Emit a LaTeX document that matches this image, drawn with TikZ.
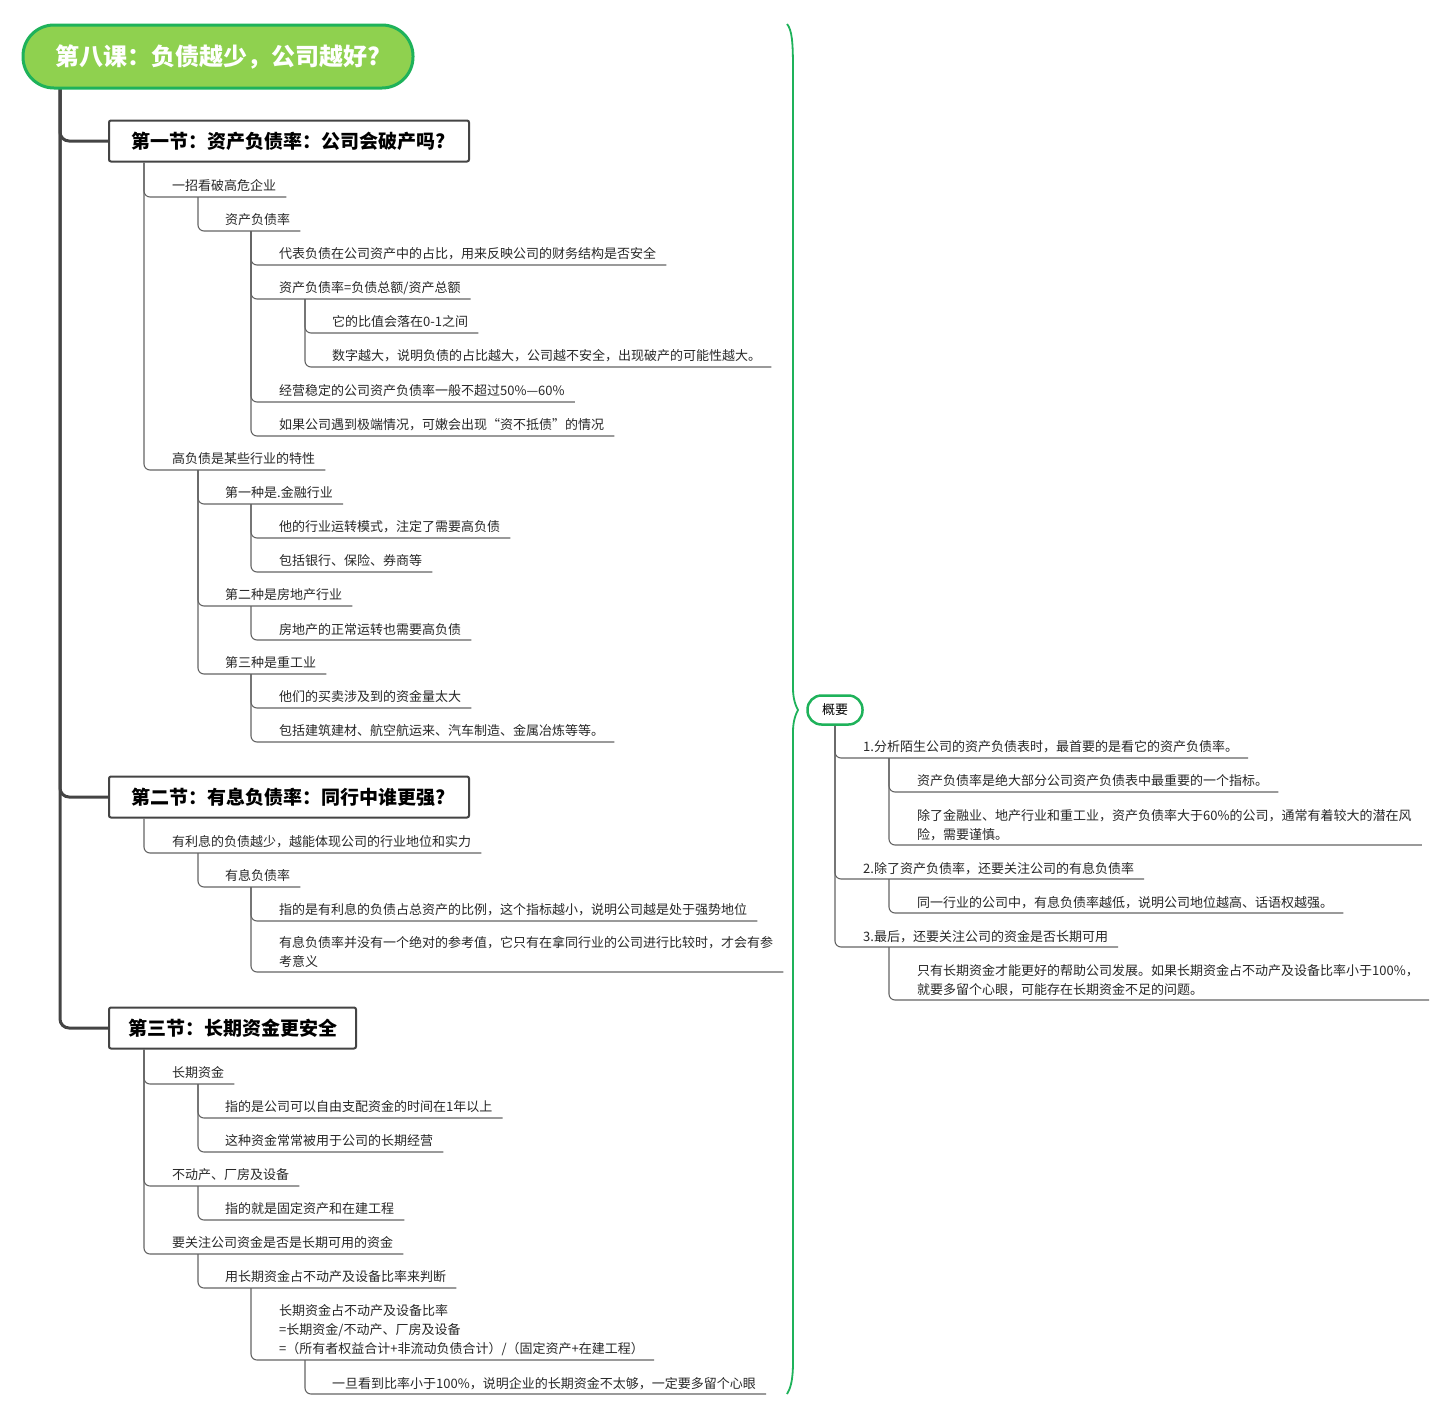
\documentclass[tikz,border=0pt]{standalone}
\usepackage{fontspec}
\setmainfont{Noto Sans CJK SC}
\usetikzlibrary{backgrounds}
\definecolor{textc}{RGB}{40,40,40}
\definecolor{linec}{RGB}{100,100,100}
\definecolor{trunkc}{RGB}{68,68,68}
\definecolor{gfill}{RGB}{143,209,79}
\definecolor{gline}{RGB}{30,178,90}
\begin{document}
\begin{tikzpicture}[x=1pt,y=-1pt,
  t/.style={anchor=west,inner sep=0pt,align=left,text=textc,yshift=-0.8pt,font=\fontsize{13}{19}\selectfont},
  conn/.style={draw=linec,line width=1.1pt,rounded corners=6pt},
  trunk/.style={draw=trunkc,line width=3pt,rounded corners=9pt},
  secbox/.style={draw=trunkc,line width=2pt,fill=white,rounded corners=2pt,minimum height=41pt,inner sep=0pt,text=black,font=\fontsize{19}{22}\selectfont\bfseries},
  titlebox/.style={draw=gline,line width=3pt,fill=gfill,rounded corners=31pt,minimum width=390pt,minimum height=63pt,inner sep=0pt,text=white,font=\fontsize{24}{28}\selectfont\bfseries},
  sumbox/.style={draw=gline,line width=2.5pt,fill=white,rounded corners=14pt,minimum width=55pt,minimum height=29pt,inner sep=0pt,text=black,font=\fontsize{13}{16}\selectfont},
  brace/.style={draw=gline,line width=1.8pt}
]
\newcommand\mmitem[6]{%
  \node[t] (#1) at (#3,#4) {#6};
  \coordinate (#1u) at (#1.east |- 0,#5);
  \coordinate (#1s) at (#3+26,#5);
  \draw[conn] (#2) |- ([xshift=10pt]#1u);
}
\useasboundingbox (0,0) rectangle (1440,1419);

% title and sections
\node[titlebox] (title) at (218,56.5) {第八课：负债越少，公司越好?};
\node[secbox,minimum width=360pt] (sec1) at (289,141) {第一节：资产负债率：公司会破产吗?};
\node[secbox,minimum width=360pt] (sec2) at (289,797) {第二节：有息负债率：同行中谁更强?};
\node[secbox,minimum width=247pt] (sec3) at (232.5,1028) {第三节：长期资金更安全};
\coordinate (troot) at (title.south -| 60,0);
\begin{scope}[on background layer]
  \fill[white] (0,0) rectangle (1440,1419);
  \draw[trunk] ([yshift=2pt]troot) |- (sec1.west);
  \draw[trunk] ([yshift=2pt]troot) |- (sec2.west);
  \draw[trunk] ([yshift=2pt]troot) |- (sec3.west);
\end{scope}

\coordinate (sec1s) at ([xshift=36pt]sec1.south west);
\coordinate (sec2s) at ([xshift=36pt]sec2.south west);
\coordinate (sec3s) at ([xshift=36pt]sec3.south west);

% section 1
\mmitem{a1}{sec1s}{172}{185}{197}{一招看破高危企业}
\mmitem{a11}{a1s}{225}{219}{231}{资产负债率}
\mmitem{a111}{a11s}{279}{253}{265}{代表负债在公司资产中的占比，用来反映公司的财务结构是否安全}
\mmitem{a112}{a11s}{279}{287}{299}{资产负债率=负债总额/资产总额}
\mmitem{a1121}{a112s}{332}{321}{333}{它的比值会落在0-1之间}
\mmitem{a1122}{a112s}{332}{355}{367}{数字越大，说明负债的占比越大，公司越不安全，出现破产的可能性越大。}
\mmitem{a113}{a11s}{279}{390}{402}{经营稳定的公司资产负债率一般不超过50\%—60\%}
\mmitem{a114}{a11s}{279}{424}{436}{如果公司遇到极端情况，可嫩会出现“资不抵债”的情况}
\mmitem{a2}{sec1s}{172}{458}{470}{高负债是某些行业的特性}
\mmitem{a21}{a2s}{225}{492}{504}{第一种是.金融行业}
\mmitem{a211}{a21s}{279}{526}{538}{他的行业运转模式，注定了需要高负债}
\mmitem{a212}{a21s}{279}{560}{572}{包括银行、保险、券商等}
\mmitem{a22}{a2s}{225}{594}{606}{第二种是房地产行业}
\mmitem{a221}{a22s}{279}{629}{640}{房地产的正常运转也需要高负债}
\mmitem{a23}{a2s}{225}{662}{674}{第三种是重工业}
\mmitem{a231}{a23s}{279}{696}{708}{他们的买卖涉及到的资金量太大}
\mmitem{a232}{a23s}{279}{730}{742}{包括建筑建材、航空航运来、汽车制造、金属冶炼等等。}

% section 2
\mmitem{b1}{sec2s}{172}{841}{853}{有利息的负债越少，越能体现公司的行业地位和实力}
\mmitem{b11}{b1s}{225}{875}{887}{有息负债率}
\mmitem{b111}{b11s}{279}{909}{921}{指的是有利息的负债占总资产的比例，这个指标越小，说明公司越是处于强势地位}
\mmitem{b112}{b11s}{279}{951.5}{972}{有息负债率并没有一个绝对的参考值，它只有在拿同行业的公司进行比较时，才会有参\\考意义}

% section 3
\mmitem{c1}{sec3s}{172}{1072}{1084}{长期资金}
\mmitem{c11}{c1s}{225}{1106}{1118}{指的是公司可以自由支配资金的时间在1年以上}
\mmitem{c12}{c1s}{225}{1140}{1152}{这种资金常常被用于公司的长期经营}
\mmitem{c2}{sec3s}{172}{1174}{1186}{不动产、厂房及设备}
\mmitem{c21}{c2s}{225}{1208}{1220}{指的就是固定资产和在建工程}
\mmitem{c3}{sec3s}{172}{1242}{1254}{要关注公司资金是否是长期可用的资金}
\mmitem{c31}{c3s}{225}{1276}{1288}{用长期资金占不动产及设备比率来判断}
\mmitem{c311}{c31s}{279}{1329}{1360}{长期资金占不动产及设备比率\\=长期资金/不动产、厂房及设备\\=（所有者权益合计+非流动负债合计）/（固定资产+在建工程）}
\mmitem{c3111}{c311s}{332}{1383}{1394}{一旦看到比率小于100\%，说明企业的长期资金不太够，一定要多留个心眼}

% brace
\coordinate (btop) at (787,24);
\coordinate (btip) at (798,710);
\coordinate (bbot) at (787,1394);
\draw[brace] (btop) .. controls (792,30) and (793,42) .. (793,70) -- (793,688)
  .. controls (793,700) and (796,706) .. (btip)
  .. controls (796,714) and (793,720) .. (793,732) -- (793,1362)
  .. controls (793,1382) and (790,1389) .. (bbot);

% summary
\node[sumbox] (gy) at (835,710) {概要};
\coordinate (gys) at (gy.south);
\mmitem{d1}{gys}{863}{746}{758}{1.分析陌生公司的资产负债表时，最首要的是看它的资产负债率。}
\mmitem{d11}{d1s}{917}{780}{792}{资产负债率是绝大部分公司资产负债表中最重要的一个指标。}
\mmitem{d12}{d1s}{917}{824.5}{845}{除了金融业、地产行业和重工业，资产负债率大于60\%的公司，通常有着较大的潜在风\\险，需要谨慎。}
\mmitem{d2}{gys}{863}{868}{879}{2.除了资产负债率，还要关注公司的有息负债率}
\mmitem{d21}{d2s}{917}{902}{913}{同一行业的公司中，有息负债率越低，说明公司地位越高、话语权越强。}
\mmitem{d3}{gys}{863}{936}{947}{3.最后，还要关注公司的资金是否长期可用}
\mmitem{d31}{d3s}{917}{979.5}{1000}{只有长期资金才能更好的帮助公司发展。如果长期资金占不动产及设备比率小于100\%，\\就要多留个心眼，可能存在长期资金不足的问题。}
\end{tikzpicture}
\end{document}
